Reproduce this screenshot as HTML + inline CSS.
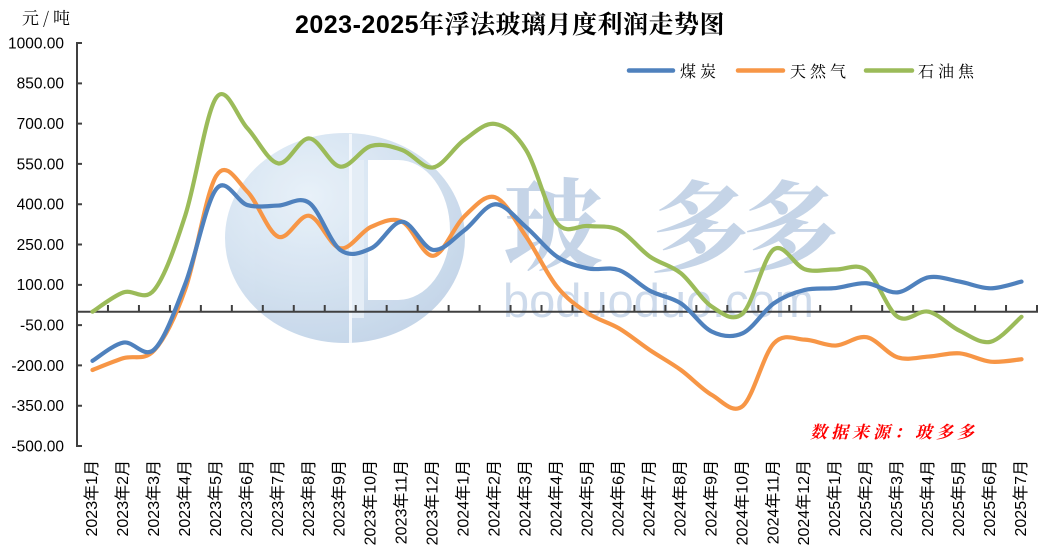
<!DOCTYPE html>
<html>
<head>
<meta charset="utf-8">
<style>
  html,body{margin:0;padding:0;background:#fff;}
  body{width:1041px;height:552px;overflow:hidden;}
  svg{display:block;}
  .yl{font-family:"Liberation Sans","Noto Sans CJK SC",sans-serif;font-size:15.5px;fill:#000;text-anchor:end;}
  .xl{font-family:"Liberation Sans","Noto Sans CJK SC",sans-serif;font-size:16px;fill:#000;text-anchor:end;}
  .lg{font-family:"Noto Serif CJK SC","Liberation Serif",serif;font-size:16px;fill:#000;letter-spacing:4px;}
</style>
</head>
<body>
<svg id="chart" width="1041" height="552" viewBox="0 0 1041 552" xmlns="http://www.w3.org/2000/svg">
  <defs>
    <radialGradient id="globe" cx="0.35" cy="0.3" r="0.8">
      <stop offset="0" stop-color="#e6f0f9"/>
      <stop offset="0.5" stop-color="#d2e1f0"/>
      <stop offset="1" stop-color="#bccfe5"/>
    </radialGradient>
  </defs>
  <rect x="0" y="0" width="1041" height="552" fill="#fff"/>

  <!-- watermark -->
  <g opacity="0.9">
    <ellipse cx="345" cy="238" rx="120" ry="105" fill="url(#globe)"/>
    <path d="M368 160 L398 160 A52 70 0 0 1 398 300 L368 300 Z" fill="#ffffff"/>
    <path d="M352 160 L364 160 L364 318 L352 318 Z" fill="#e2ecf6"/>
    <rect x="349" y="134" width="3" height="209" fill="#f2f7fc"/>
    <text x="503" y="262" font-family="Noto Serif CJK SC, serif" font-weight="bold" font-size="100" fill="#bfd0e5">玻</text>
    <text x="650" y="264" font-family="Noto Serif CJK SC, serif" font-weight="bold" font-size="100" fill="#bfd0e5">多</text>
    <text x="740" y="264" font-family="Noto Serif CJK SC, serif" font-weight="bold" font-size="100" fill="#bfd0e5">多</text>
    <text x="503" y="317" font-family="Liberation Sans, sans-serif" font-size="47" fill="#c8d7e9">boduoduo.com</text>
  </g>

  <!-- title -->
  <text x="510" y="33" text-anchor="middle" font-family="Liberation Sans, Noto Serif CJK SC, serif" font-weight="bold" font-size="25" fill="#000" letter-spacing="0.5">2023-2025年浮法玻璃月度利润走势图</text>

  <!-- unit -->
  <text x="22" y="24" font-family="Noto Serif CJK SC, serif" font-size="17" fill="#000" letter-spacing="4">元/吨</text>

  <!-- y labels -->
  <text class="yl" x="64" y="48.4">1000.00</text>
  <text class="yl" x="64" y="88.7">850.00</text>
  <text class="yl" x="64" y="129.0">700.00</text>
  <text class="yl" x="64" y="169.3">550.00</text>
  <text class="yl" x="64" y="209.6">400.00</text>
  <text class="yl" x="64" y="249.9">250.00</text>
  <text class="yl" x="64" y="290.2">100.00</text>
  <text class="yl" x="64" y="330.5">-50.00</text>
  <text class="yl" x="64" y="370.8">-200.00</text>
  <text class="yl" x="64" y="411.1">-350.00</text>
  <text class="yl" x="64" y="451.4">-500.00</text>

  <!-- axes -->
  <g stroke="#404040" stroke-width="2" fill="none">
    <line x1="77" y1="42" x2="77" y2="447"/>
    <path d="M77 43.03H82M77 83.33H82M77 123.63H82M77 163.93H82M77 204.23H82M77 244.53H82M77 284.83H82M77 325.13H82M77 365.43H82M77 405.73H82M77 446.03H82"/>
    <line x1="77" y1="311.7" x2="1038" y2="311.7"/>
    <path d="M107.97 305V311.7M138.94 305V311.7M169.9 305V311.7M200.87 305V311.7M231.84 305V311.7M262.81 305V311.7M293.78 305V311.7M324.74 305V311.7M355.71 305V311.7M386.68 305V311.7M417.65 305V311.7M448.62 305V311.7M479.58 305V311.7M510.55 305V311.7M541.52 305V311.7M572.49 305V311.7M603.46 305V311.7M634.42 305V311.7M665.39 305V311.7M696.36 305V311.7M727.33 305V311.7M758.3 305V311.7M789.26 305V311.7M820.23 305V311.7M851.2 305V311.7M882.17 305V311.7M913.14 305V311.7M944.1 305V311.7M975.07 305V311.7M1006.04 305V311.7M1037 305V311.7"/>
  </g>

  <!-- x labels -->
  <g>
    <text class="xl" transform="translate(97,460) rotate(-90)">2023年1月</text>
    <text class="xl" transform="translate(128,460) rotate(-90)">2023年2月</text>
    <text class="xl" transform="translate(158.9,460) rotate(-90)">2023年3月</text>
    <text class="xl" transform="translate(189.9,460) rotate(-90)">2023年4月</text>
    <text class="xl" transform="translate(220.9,460) rotate(-90)">2023年5月</text>
    <text class="xl" transform="translate(251.8,460) rotate(-90)">2023年6月</text>
    <text class="xl" transform="translate(282.8,460) rotate(-90)">2023年7月</text>
    <text class="xl" transform="translate(313.8,460) rotate(-90)">2023年8月</text>
    <text class="xl" transform="translate(344.7,460) rotate(-90)">2023年9月</text>
    <text class="xl" transform="translate(375.7,460) rotate(-90)">2023年10月</text>
    <text class="xl" transform="translate(406.7,460) rotate(-90)">2023年11月</text>
    <text class="xl" transform="translate(437.6,460) rotate(-90)">2023年12月</text>
    <text class="xl" transform="translate(468.6,460) rotate(-90)">2024年1月</text>
    <text class="xl" transform="translate(499.6,460) rotate(-90)">2024年2月</text>
    <text class="xl" transform="translate(530.5,460) rotate(-90)">2024年3月</text>
    <text class="xl" transform="translate(561.5,460) rotate(-90)">2024年4月</text>
    <text class="xl" transform="translate(592.5,460) rotate(-90)">2024年5月</text>
    <text class="xl" transform="translate(623.4,460) rotate(-90)">2024年6月</text>
    <text class="xl" transform="translate(654.4,460) rotate(-90)">2024年7月</text>
    <text class="xl" transform="translate(685.4,460) rotate(-90)">2024年8月</text>
    <text class="xl" transform="translate(716.3,460) rotate(-90)">2024年9月</text>
    <text class="xl" transform="translate(747.3,460) rotate(-90)">2024年10月</text>
    <text class="xl" transform="translate(778.3,460) rotate(-90)">2024年11月</text>
    <text class="xl" transform="translate(809.2,460) rotate(-90)">2024年12月</text>
    <text class="xl" transform="translate(840.2,460) rotate(-90)">2025年1月</text>
    <text class="xl" transform="translate(871.2,460) rotate(-90)">2025年2月</text>
    <text class="xl" transform="translate(902.1,460) rotate(-90)">2025年3月</text>
    <text class="xl" transform="translate(933.1,460) rotate(-90)">2025年4月</text>
    <text class="xl" transform="translate(964.1,460) rotate(-90)">2025年5月</text>
    <text class="xl" transform="translate(995.1,460) rotate(-90)">2025年6月</text>
    <text class="xl" transform="translate(1026,460) rotate(-90)">2025年7月</text>
  </g>

  <!-- series -->
  <g fill="none" stroke-width="4.2" stroke-linecap="round" stroke-linejoin="round">
    <path id="sGreen" stroke="#9bbb59"/>
    <path id="sOrange" stroke="#f79646"/>
    <path id="sBlue" stroke="#4f81bd"/>
  </g>

  <!-- legend -->
  <g stroke-width="4.5" stroke-linecap="round">
    <line x1="629" y1="70.5" x2="673" y2="70.5" stroke="#4f81bd"/>
    <line x1="738" y1="70.5" x2="783" y2="70.5" stroke="#f79646"/>
    <line x1="866" y1="70.5" x2="912" y2="70.5" stroke="#9bbb59"/>
  </g>
  <text class="lg" x="680" y="77">煤炭</text>
  <text class="lg" x="790" y="77">天然气</text>
  <text class="lg" x="918" y="77">石油焦</text>

  <!-- source -->
  <text x="810" y="438" font-family="Noto Serif CJK SC, serif" font-size="17" font-weight="bold" font-style="italic" fill="#ff0000" letter-spacing="4">数据来源：玻多多</text>
</svg>
<script>
(function(){
  var X0=77, W=960/31;
  function yv(v){return 311.7 - v*0.26867;}
  function build(vals){
    var p=vals.map(function(v,i){return [X0+W*(i+0.5), yv(v)];});
    var d='M'+p[0][0].toFixed(2)+' '+p[0][1].toFixed(2);
    for(var i=0;i<p.length-1;i++){
      var p0=p[i-1]||p[i], p1=p[i], p2=p[i+1], p3=p[i+2]||p[i+1];
      var c1x=p1[0]+(p2[0]-p0[0])/6, c1y=p1[1]+(p2[1]-p0[1])/6;
      var c2x=p2[0]-(p3[0]-p1[0])/6, c2y=p2[1]-(p3[1]-p1[1])/6;
      d+=' C'+c1x.toFixed(2)+' '+c1y.toFixed(2)+' '+c2x.toFixed(2)+' '+c2y.toFixed(2)+' '+p2[0].toFixed(2)+' '+p2[1].toFixed(2);
    }
    return d;
  }
  var blue=[-183,-115,-140,105,457,397,395,405,230,236,335,230,302,400,315,205,161,155,78,31,-74,-80,31,81,88,106,72,128,112,87,112];
  var orange=[-217,-173,-143,85,506,447,279,357,236,316,335,208,354,426,280,93,-6,-62,-143,-217,-310,-351,-118,-104,-126,-95,-170,-167,-155,-186,-177];
  var green=[0,72,82,360,797,683,552,645,540,617,602,537,639,699,602,330,319,304,205,143,19,-6,232,158,157,154,-19,0,-71,-112,-19];
  document.getElementById('sBlue').setAttribute('d',build(blue));
  document.getElementById('sOrange').setAttribute('d',build(orange));
  document.getElementById('sGreen').setAttribute('d',build(green));
})();
</script>
</body>
</html>
